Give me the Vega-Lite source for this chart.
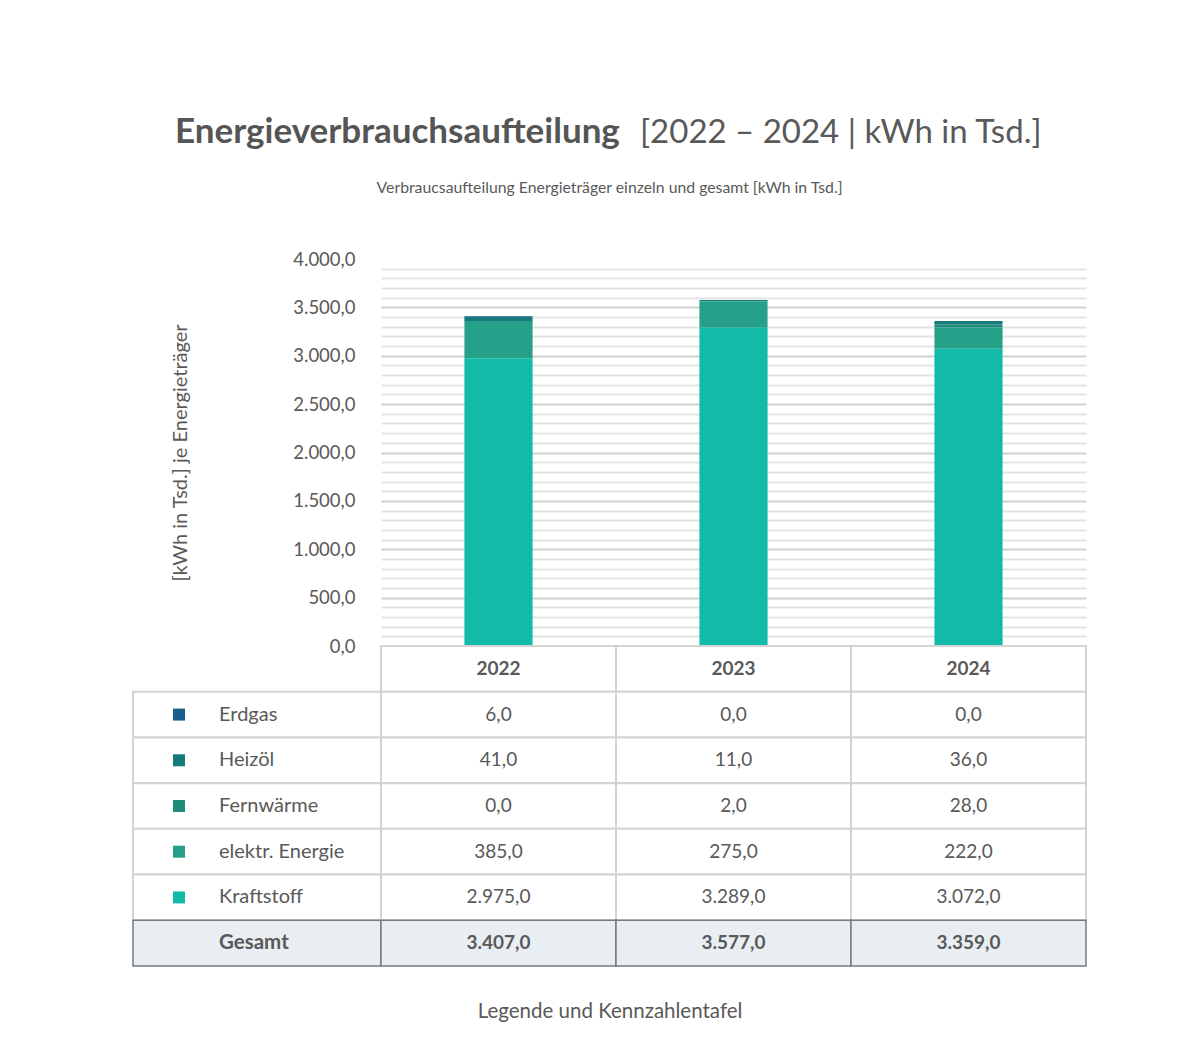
{
  "$schema": "https://vega.github.io/schema/vega-lite/v6.json",
  "autosize": "none",
  "padding": {"left": 133, "top": 259, "right": 1064, "bottom": 789},
  "background": "white",
  "datasets": {
    "energy": [
      {"year": "2022", "carrier": "Erdgas", "value": 6},
      {"year": "2022", "carrier": "Heizöl", "value": 41},
      {"year": "2022", "carrier": "Fernwärme", "value": 0},
      {"year": "2022", "carrier": "elektr. Energie", "value": 385},
      {"year": "2022", "carrier": "Kraftstoff", "value": 2975},
      {"year": "2022", "carrier": "Gesamt", "value": 3407},
      {"year": "2023", "carrier": "Erdgas", "value": 0},
      {"year": "2023", "carrier": "Heizöl", "value": 11},
      {"year": "2023", "carrier": "Fernwärme", "value": 2},
      {"year": "2023", "carrier": "elektr. Energie", "value": 275},
      {"year": "2023", "carrier": "Kraftstoff", "value": 3289},
      {"year": "2023", "carrier": "Gesamt", "value": 3577},
      {"year": "2024", "carrier": "Erdgas", "value": 0},
      {"year": "2024", "carrier": "Heizöl", "value": 36},
      {"year": "2024", "carrier": "Fernwärme", "value": 28},
      {"year": "2024", "carrier": "elektr. Energie", "value": 222},
      {"year": "2024", "carrier": "Kraftstoff", "value": 3072},
      {"year": "2024", "carrier": "Gesamt", "value": 3359}
    ]
  },
  "columns": 2,
  "spacing": 0,
  "bounds": "flush",
  "align": "each",
  "title": {"text": "Verbraucsaufteilung Energieträger einzeln und gesamt [kWh in Tsd.]", "anchor": "middle", "frame": "group", "dx": 476.5, "fontSize": 15.8, "fontWeight": "normal", "color": "#595959", "offset": -82},
  "concat": [
    {
      "width": 248,
      "height": 387,
      "data": {"values": []},
      "mark": {"type": "point"},
      "encoding": {},
      "title": {"text": "Energieverbrauchsaufteilung", "anchor": "start", "frame": "group", "dx": 42, "offset": 109, "fontSize": 35, "fontWeight": "bold", "color": "#555555"}
    },
    {
      "width": 705,
      "height": 387,
      "title": {"text": "[2022 – 2024 | kWh in Tsd.]", "anchor": "start", "frame": "group", "dx": 259, "offset": 100, "fontSize": 33, "fontWeight": "normal", "color": "#595959"},
      "data": {"name": "energy"},
      "transform": [
        {"filter": "datum.carrier !== 'Gesamt'"},
        {"calculate": "indexof(['Kraftstoff', 'elektr. Energie', 'Fernwärme', 'Heizöl', 'Erdgas'], datum.carrier)", "as": "stackRank"}
      ],
      "mark": {"type": "bar", "width": {"band": 0.29}},
      "encoding": {
        "x": {"field": "year", "type": "nominal", "axis": null, "scale": {"paddingInner": 0, "paddingOuter": 0}},
        "y": {
          "field": "value", "type": "quantitative", "stack": "zero",
          "scale": {"domain": [0, 4000], "nice": false},
          "axis": {
            "title": "[kWh in Tsd.] je Energieträger",
            "titleFontSize": 20, "titleFontWeight": "normal", "titleColor": "#595959", "titlePadding": 102,
            "tickCount": 40, "format": ",.1f",
            "labelExpr": "datum.value % 500 === 0 ? datum.label : ''",
            "labelOverlap": false, "labelFontSize": 18.5, "labelColor": "#595959", "labelPadding": 26,
            "domain": false, "ticks": false,
            "gridColor": {"condition": {"test": "datum.value % 500 === 0", "value": "#d0d0d0"}, "value": "#e4e4e4"},
            "gridWidth": 2,
            "gridOpacity": {"condition": {"test": "datum.value >= 4000 || datum.value <= 0", "value": 0}, "value": 1}
          }
        },
        "color": {
          "field": "carrier", "type": "nominal",
          "scale": {"domain": ["Erdgas", "Heizöl", "Fernwärme", "elektr. Energie", "Kraftstoff"], "range": ["#1a5e8e", "#177a7a", "#1f8c78", "#27a08a", "#12baa8"]},
          "legend": null
        },
        "order": {"field": "stackRank", "type": "quantitative", "sort": "ascending"}
      }
    },
    {
      "width": 248,
      "height": 320,
      "data": {"name": "energy"},
      "transform": [{"filter": "datum.year === '2022'"}],
      "layer": [
        {
          "transform": [{"filter": "datum.carrier !== 'Gesamt'"}],
          "mark": {"type": "rect", "fill": "white", "stroke": "#d3d3d3", "strokeWidth": 2},
          "encoding": {"y": {"field": "carrier", "type": "nominal", "axis": null, "scale": {"domain": ["header", "Erdgas", "Heizöl", "Fernwärme", "elektr. Energie", "Kraftstoff", "Gesamt"], "paddingInner": 0, "paddingOuter": 0}}}
        },
        {
          "transform": [{"filter": "datum.carrier === 'Gesamt'"}],
          "mark": {"type": "rect", "fill": "#e9eef2", "stroke": "#7b7b7b", "strokeWidth": 1.5},
          "encoding": {"y": {"field": "carrier", "type": "nominal", "axis": null, "scale": {"domain": ["header", "Erdgas", "Heizöl", "Fernwärme", "elektr. Energie", "Kraftstoff", "Gesamt"], "paddingInner": 0, "paddingOuter": 0}}}
        },
        {
          "transform": [{"filter": "datum.carrier !== 'Gesamt'"}],
          "mark": {"type": "square", "size": 144, "filled": true, "opacity": 1, "xOffset": -78},
          "encoding": {
            "y": {"field": "carrier", "type": "nominal", "axis": null, "scale": {"domain": ["header", "Erdgas", "Heizöl", "Fernwärme", "elektr. Energie", "Kraftstoff", "Gesamt"], "paddingInner": 0, "paddingOuter": 0}},
            "color": {"field": "carrier", "type": "nominal", "scale": {"domain": ["Erdgas", "Heizöl", "Fernwärme", "elektr. Energie", "Kraftstoff"], "range": ["#1a5e8e", "#177a7a", "#1f8c78", "#27a08a", "#12baa8"]}, "legend": null}
          }
        },
        {
          "transform": [{"filter": "datum.carrier !== 'Gesamt'"}],
          "mark": {"type": "text", "align": "left", "dx": -38, "fontSize": 20, "color": "#595959"},
          "encoding": {
            "y": {"field": "carrier", "type": "nominal", "axis": null, "scale": {"domain": ["header", "Erdgas", "Heizöl", "Fernwärme", "elektr. Energie", "Kraftstoff", "Gesamt"], "paddingInner": 0, "paddingOuter": 0}},
            "text": {"field": "carrier"}
          }
        },
        {
          "transform": [{"filter": "datum.carrier === 'Gesamt'"}],
          "mark": {"type": "text", "align": "left", "dx": -38, "fontSize": 20.5, "fontWeight": "bold", "color": "#595959"},
          "encoding": {
            "y": {"field": "carrier", "type": "nominal", "axis": null, "scale": {"domain": ["header", "Erdgas", "Heizöl", "Fernwärme", "elektr. Energie", "Kraftstoff", "Gesamt"], "paddingInner": 0, "paddingOuter": 0}},
            "text": {"field": "carrier"}
          }
        }
      ]
    },
    {
      "width": 705,
      "height": 320,
      "title": {"text": "Legende und Kennzahlentafel", "orient": "bottom", "anchor": "middle", "frame": "group", "dx": -123.5, "fontSize": 20.5, "fontWeight": "normal", "color": "#595959", "offset": 35},
      "data": {"name": "energy"},
      "layer": [
        {
          "transform": [{"filter": "datum.carrier === 'Kraftstoff'"}],
          "mark": {"type": "rect", "fill": "white", "stroke": "#d3d3d3", "strokeWidth": 2},
          "encoding": {
            "x": {"field": "year", "type": "nominal", "axis": null, "scale": {"paddingInner": 0, "paddingOuter": 0}},
            "y": {"datum": "header", "type": "nominal", "axis": null, "scale": {"domain": ["header", "Erdgas", "Heizöl", "Fernwärme", "elektr. Energie", "Kraftstoff", "Gesamt"], "paddingInner": 0, "paddingOuter": 0}}
          }
        },
        {
          "transform": [{"filter": "datum.carrier !== 'Gesamt'"}],
          "mark": {"type": "rect", "fill": "white", "stroke": "#d3d3d3", "strokeWidth": 2},
          "encoding": {
            "x": {"field": "year", "type": "nominal", "axis": null, "scale": {"paddingInner": 0, "paddingOuter": 0}},
            "y": {"field": "carrier", "type": "nominal", "axis": null, "scale": {"domain": ["header", "Erdgas", "Heizöl", "Fernwärme", "elektr. Energie", "Kraftstoff", "Gesamt"], "paddingInner": 0, "paddingOuter": 0}}
          }
        },
        {
          "transform": [{"filter": "datum.carrier === 'Gesamt'"}],
          "mark": {"type": "rect", "fill": "#e9eef2", "stroke": "#7b7b7b", "strokeWidth": 1.5},
          "encoding": {
            "x": {"field": "year", "type": "nominal", "axis": null, "scale": {"paddingInner": 0, "paddingOuter": 0}},
            "y": {"field": "carrier", "type": "nominal", "axis": null, "scale": {"domain": ["header", "Erdgas", "Heizöl", "Fernwärme", "elektr. Energie", "Kraftstoff", "Gesamt"], "paddingInner": 0, "paddingOuter": 0}}
          }
        },
        {
          "transform": [{"filter": "datum.carrier !== 'Gesamt'"}],
          "mark": {"type": "text", "fontSize": 19, "color": "#595959"},
          "encoding": {
            "x": {"field": "year", "type": "nominal", "axis": null, "scale": {"paddingInner": 0, "paddingOuter": 0}},
            "y": {"field": "carrier", "type": "nominal", "axis": null, "scale": {"domain": ["header", "Erdgas", "Heizöl", "Fernwärme", "elektr. Energie", "Kraftstoff", "Gesamt"], "paddingInner": 0, "paddingOuter": 0}},
            "text": {"field": "value", "type": "quantitative", "format": ",.1f"}
          }
        },
        {
          "transform": [{"filter": "datum.carrier === 'Gesamt'"}],
          "mark": {"type": "text", "fontSize": 19, "fontWeight": "bold", "color": "#595959"},
          "encoding": {
            "x": {"field": "year", "type": "nominal", "axis": null, "scale": {"paddingInner": 0, "paddingOuter": 0}},
            "y": {"field": "carrier", "type": "nominal", "axis": null, "scale": {"domain": ["header", "Erdgas", "Heizöl", "Fernwärme", "elektr. Energie", "Kraftstoff", "Gesamt"], "paddingInner": 0, "paddingOuter": 0}},
            "text": {"field": "value", "type": "quantitative", "format": ",.1f"}
          }
        },
        {
          "transform": [{"filter": "datum.carrier === 'Kraftstoff'"}],
          "mark": {"type": "text", "fontSize": 19, "fontWeight": "bold", "color": "#595959"},
          "encoding": {
            "x": {"field": "year", "type": "nominal", "axis": null, "scale": {"paddingInner": 0, "paddingOuter": 0}},
            "y": {"datum": "header", "type": "nominal", "axis": null, "scale": {"domain": ["header", "Erdgas", "Heizöl", "Fernwärme", "elektr. Energie", "Kraftstoff", "Gesamt"], "paddingInner": 0, "paddingOuter": 0}},
            "text": {"field": "year"}
          }
        }
      ]
    }
  ],
  "config": {
    "font": "Lato",
    "view": {"stroke": null},
    "locale": {"number": {"decimal": ",", "thousands": ".", "grouping": [3], "currency": ["", " €"]}}
  }
}
